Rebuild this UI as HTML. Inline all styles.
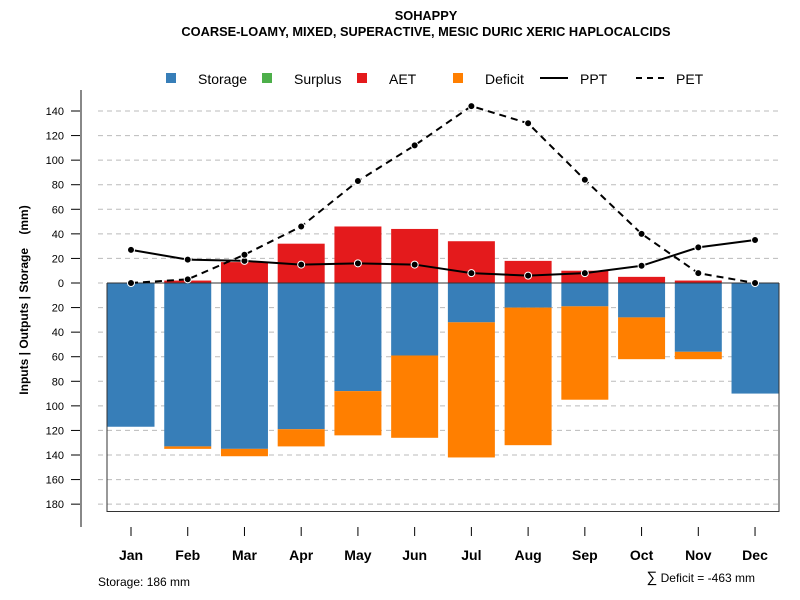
<!DOCTYPE html>
<html><head><meta charset="utf-8"><style>body{margin:0;background:#fff}svg{display:block;font-family:"Liberation Sans",sans-serif}</style></head>
<body>
<svg id="chart" width="800" height="600" viewBox="0 0 800 600">
<text x="426" y="20" text-anchor="middle" font-size="12.8" font-weight="bold">SOHAPPY</text>
<text x="426" y="36" text-anchor="middle" font-size="12.8" font-weight="bold">COARSE-LOAMY, MIXED, SUPERACTIVE, MESIC DURIC XERIC HAPLOCALCIDS</text>
<g font-size="14">
<rect x="166" y="73" width="10" height="10" fill="#377eb8"/><text x="198" y="84">Storage</text>
<rect x="262" y="73" width="10" height="10" fill="#4daf4a"/><text x="294" y="84">Surplus</text>
<rect x="357" y="73" width="10" height="10" fill="#e41a1c"/><text x="389" y="84">AET</text>
<rect x="453" y="73" width="10" height="10" fill="#ff7f00"/><text x="485" y="84">Deficit</text>
<line x1="540" y1="78" x2="568" y2="78" stroke="#000" stroke-width="2"/><text x="580" y="84">PPT</text>
<line x1="636" y1="78" x2="664" y2="78" stroke="#000" stroke-width="2" stroke-dasharray="6,5"/><text x="676" y="84">PET</text>
</g>
<g id="grid"></g><g id="bars"></g><g id="axes"></g><g id="lines"></g>
<text transform="translate(28,300) rotate(-90)" text-anchor="middle" font-size="12" font-weight="bold">Inputs | Outputs | Storage&#160;&#160;&#160;&#160;(mm)</text>
<text x="98" y="586" font-size="12">Storage: 186 mm</text>
<text x="755" y="582" text-anchor="end" font-size="12"><tspan font-size="15">∑</tspan> Deficit = -463 mm</text>
</svg>
<script>
const months=["Jan","Feb","Mar","Apr","May","Jun","Jul","Aug","Sep","Oct","Nov","Dec"];
const storage=[117,133,135,119,88,59,32,20,19,28,56,90];
const deficit=[0,2,6,14,36,67,110,112,76,34,6,0];
const aet=[0,2,17,32,46,44,34,18,10,5,2,0];
const ppt=[27,19,18,15,16,15,8,6,8,14,29,35];
const pet=[0,3,23,46,83,112,144,130,84,40,8,0];
const yTicks=[140,120,100,80,60,40,20,0,20,40,60,80,100,120,140,160,180];
const yTickVals=[140,120,100,80,60,40,20,0,-20,-40,-60,-80,-100,-120,-140,-160,-180];
const storageCap=186;
const NS="http://www.w3.org/2000/svg";
const y=v=>283-v*1.2286;
const x=i=>131+i*56.73;
const bw=47;
function mk(t,a,p){const e=document.createElementNS(NS,t);for(const k in a)e.setAttribute(k,a[k]);document.getElementById(p).appendChild(e);return e;}
yTickVals.forEach((v,i)=>{
 const g=mk("line",{x1:98,x2:780,y1:y(v),y2:y(v),stroke:"#bbb","stroke-dasharray":"5,4"},"grid");
 
 
 const t=mk("line",{x1:71,x2:81,y1:y(v),y2:y(v),stroke:"#000"},"axes");
 
 
 const l=mk("text",{x:64,y:y(v)+4,"text-anchor":"end","font-size":"11"},"axes");l.textContent=yTicks[i];
 
 
});
const ax=mk("line",{x1:81,x2:81,y1:90,y2:527,stroke:"#888","stroke-width":2},"axes");


const box=mk("polyline",{points:`107,${y(0)} 107,${y(-storageCap)} 779,${y(-storageCap)} 779,${y(0)}`,fill:"none",stroke:"#333"},"axes");


months.forEach((m,i)=>{
 const s=mk("rect",{x:x(i)-bw/2,y:y(0),width:bw,height:y(-storage[i])-y(0),fill:"#377eb8"},"bars");
 
 
 const d=mk("rect",{x:x(i)-bw/2,y:y(-storage[i]),width:bw,height:y(-storage[i]-deficit[i])-y(-storage[i]),fill:"#ff7f00"},"bars");
 
 
 const a=mk("rect",{x:x(i)-bw/2,y:y(aet[i]),width:bw,height:y(0)-y(aet[i]),fill:"#e41a1c"},"bars");
 
 
 const t=mk("line",{x1:x(i),x2:x(i),y1:527,y2:536,stroke:"#000"},"axes");
 
 
 const l=mk("text",{x:x(i),y:560,"text-anchor":"middle","font-size":"14","font-weight":"bold"},"axes");l.textContent=m;
 
 
});
const z=mk("line",{x1:107,x2:779,y1:y(0),y2:y(0),stroke:"#333"},"bars");


[[ppt,"ppt",null],[pet,"pet","7,5"]].forEach(([arr,n,da])=>{
 const p=mk("polyline",{points:arr.map((v,i)=>x(i)+","+y(v)).join(" "),fill:"none",stroke:"#000","stroke-width":2},"lines");
 if(da)p.setAttribute("stroke-dasharray",da);
 
 
 arr.forEach((v,i)=>{const c=mk("circle",{cx:x(i),cy:y(v),r:3.5,fill:"#000",stroke:"#fff","stroke-width":1},"lines");
 
 });
});
</script>
</body></html>
